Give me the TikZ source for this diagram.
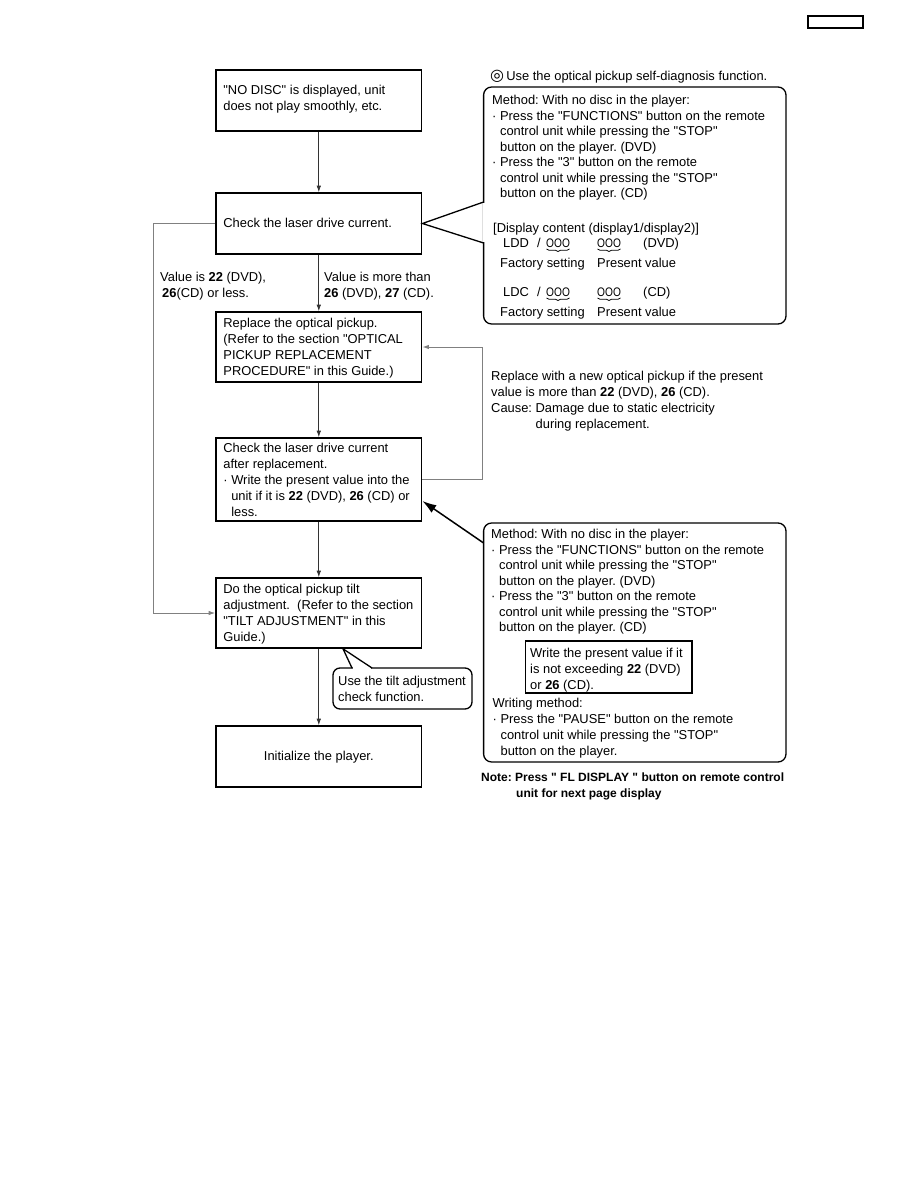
\documentclass[tikz,border=0pt]{standalone}
\usepackage{fontspec}
\usepackage{graphicx}
\setmainfont{Liberation Sans}
\newfontfamily\symfont{DejaVu Sans}
\usetikzlibrary{arrows.meta,calc,decorations.pathreplacing}
\newcommand{\ind}{\hphantom{\textperiodcentered\ }}
\newcommand{\bul}{\textperiodcentered\ }
\newcommand{\q}{\textquotedbl}
\newcommand{\circs}{\scalebox{0.82}[1]{OOO}}
\begin{document}
\frenchspacing
\begin{tikzpicture}[x=1pt,y=-1pt,
  txt/.style={inner sep=0pt, font=\fontsize{12.9}{16}\selectfont},
  blk/.style={txt, align=left, anchor=north west},
  blkc/.style={inner sep=0pt, align=left, anchor=north west, font=\fontsize{12.9}{15.5}\selectfont},
  box/.style={draw, line width=1.6pt, minimum width=205.6pt, minimum height=#1, inner sep=0pt},
  btxt/.style={txt, align=left, anchor=west},
  conn/.style={draw=black!80, line width=0.8pt, -{Latex[length=6.5pt,width=4.5pt]}},
  back/.style={draw=black!50, line width=1pt, -{Latex[length=6.5pt,width=4.5pt]}},
  callout/.style={draw, line width=1.3pt, rounded corners=8pt},
  ooo/.style={inner sep=0pt, anchor=base west, font=\fontsize{12.4}{14}\selectfont},
  brc/.style={decorate, decoration={brace, mirror, amplitude=2.5pt}, line width=0.7pt}
]
\useasboundingbox (0,0) rectangle (918,1188);

% page tag
\draw[line width=1.5pt] (808,16) rectangle (863,28);

% main boxes
\node[box=61pt]  (b1) at (318.8,100.5) {};
\node[box=61pt]  (b2) at (318.8,223.5) {};
\node[box=70pt]  (b3) at (318.8,347) {};
\node[box=83pt]  (b4) at (318.8,479.5) {};
\node[box=70pt]  (b5) at (318.8,613) {};
\node[box=61pt]  (b6) at (318.8,756.5) {};

\node[btxt] (t1) at ($(b1.west)+(8,-1)$) {\strut\q NO DISC\q{} is displayed, unit\\does not play smoothly, etc.\strut};
\node[btxt] (t2) at ($(b2.west)+(8,1)$) {\strut Check the laser drive current.\strut};
\node[btxt] (t3) at ($(b3.west)+(8,1)$) {\strut Replace the optical pickup.\\(Refer to the section \q OPTICAL\\PICKUP REPLACEMENT\\PROCEDURE\q{} in this Guide.)\strut};
\node[btxt] (t4) at ($(b4.west)+(8,2)$) {\strut Check the laser drive current\\after replacement.\\\bul Write the present value into the\\\ind unit if it is \textbf{22} (DVD), \textbf{26} (CD) or\\\ind less.\strut};
\node[btxt] (t5) at ($(b5.west)+(8,1)$) {\strut Do the optical pickup tilt\\adjustment.\ \ (Refer to the section\\\q TILT ADJUSTMENT\q{} in this\\Guide.)\strut};
\node[txt] (t6) at ($(b6.center)+(0,1)$) {\strut Initialize the player.\strut};

% connectors
\draw[conn] (b1) -- (b2);
\draw[conn] (b2) -- (b3);
\draw[conn] (b3) -- (b4);
\draw[conn] (b4) -- (b5);
\draw[conn] (b5) -- (b6);
\draw[back] (b2.west) -- ++(-62,0) |- (b5.west);
\draw[back] (b4.east) -- ++(60.4,0) |- (b3.east);

% branch labels
\node[blk] (l1) at (160,270.3) {\strut Value is \textbf{22} (DVD),\\\hspace*{2pt}\textbf{26}(CD) or less.};
\node[blk] (l2) at (324,270.3) {\strut Value is more than\\\textbf{26} (DVD), \textbf{27} (CD).};

% replacement note
\node[blk] (rn) at (491,369.3) {\strut Replace with a new optical pickup if the present\\value is more than \textbf{22} (DVD), \textbf{26} (CD).\\Cause: Damage due to static electricity\\\hspace*{44.5pt}during replacement.};

% callout 1
\node[txt, anchor=base west] (c1t) at (490,80.5) {{\symfont\fontsize{16}{16}\selectfont ◎}\,Use the optical pickup self-diagnosis function.};
\draw[callout] (483.6,87) rectangle (786,324);
\fill[white] (482.6,202.6) rectangle (484.6,242.4);
\coordinate (p1a) at (483.6,202);
\coordinate (p1b) at (483.6,243);
\draw[line width=1.3pt, line join=miter] (p1a) -- (b2.east) -- (p1b);
\node[blkc] (c1a) at (492,93.65) {\strut Method: With no disc in the player:\\\bul Press the \q FUNCTIONS\q{} button on the remote\\\ind control unit while pressing the \q STOP\q\\\ind button on the player. (DVD)\\\bul Press the \q 3\q{} button on the remote\\\ind control unit while pressing the \q STOP\q\\\ind button on the player. (CD)};
\node[txt, anchor=base west] (c1d) at (493,232.5) {[Display content (display1/display2)]};
\node[txt, anchor=base west] (ldd) at (503,247.5) {LDD};
\node[txt, anchor=base west] (ls1) at (537,247.5) {/};
\node[ooo] (o1) at (546,247.5) {\circs};
\node[ooo] (o2) at (597,247.5) {\circs};
\node[txt, anchor=base west] (dvd) at (643,247.5) {(DVD)};
\draw[brc] (o1.base west) ++(0.5,1.5) -- ++(23,0);
\draw[brc] (o2.base west) ++(0.5,1.5) -- ++(23,0);
\node[txt, anchor=base west] (fs1) at (500,267.5) {Factory setting};
\node[txt, anchor=base west] (pv1) at (597,267.5) {Present value};
\node[txt, anchor=base west] (ldc) at (503,296.5) {LDC};
\node[txt, anchor=base west] (ls2) at (537,296.5) {/};
\node[ooo] (o3) at (546,296.5) {\circs};
\node[ooo] (o4) at (597,296.5) {\circs};
\node[txt, anchor=base west] (cd) at (643,296.5) {(CD)};
\draw[brc] (o3.base west) ++(0.5,1.5) -- ++(23,0);
\draw[brc] (o4.base west) ++(0.5,1.5) -- ++(23,0);
\node[txt, anchor=base west] (fs2) at (500,316.5) {Factory setting};
\node[txt, anchor=base west] (pv2) at (597,316.5) {Present value};

% tilt callout
\draw[callout, rounded corners=7pt] (333,668) rectangle (472,709);
\fill[white] (352.6,667) rectangle (371.4,669.2);
\coordinate (p2a) at (352,668);
\coordinate (p2b) at (372,668);
\coordinate (p2t) at ($(b5.south)+(24.2,0)$);
\draw[line width=1.3pt, line join=miter] (p2a) -- (p2t) -- (p2b);
\node[blk] (tc) at (338,674.3) {\strut Use the tilt adjustment\\check function.};

% callout 2
\draw[callout] (483.6,523) rectangle (786,762);
\coordinate (c2a) at (483.6,543);
\draw[line width=1.5pt, -{Latex[length=14pt,width=9pt]}] (c2a) -- ($(b4.east)+(0,21.5)$);
\node[blkc] (c2t) at (491,527.65) {\strut Method: With no disc in the player:\\\bul Press the \q FUNCTIONS\q{} button on the remote\\\ind control unit while pressing the \q STOP\q\\\ind button on the player. (DVD)\\\bul Press the \q 3\q{} button on the remote\\\ind control unit while pressing the \q STOP\q\\\ind button on the player. (CD)};
\node[draw, line width=1.5pt, minimum width=166.3pt, minimum height=52pt, inner sep=0pt] (ib) at (608.85,667) {};
\node[blk] (ibt) at (530,646.3) {\strut Write the present value if it\\is not exceeding \textbf{22} (DVD)\\or \textbf{26} (CD).};
\node[blk] (wm) at (492.5,696.3) {\strut Writing method:\\\bul Press the \q PAUSE\q{} button on the remote\\\ind control unit while pressing the \q STOP\q\\\ind button on the player.};

% note
\node[inner sep=0pt, align=left, anchor=north west, font=\fontsize{12}{16}\selectfont\bfseries] (nt) at (481,770.3) {\strut Note: Press \q{} FL DISPLAY \q{} button on remote control\\\hspace*{35pt}unit for next page display};
\end{tikzpicture}
\end{document}
